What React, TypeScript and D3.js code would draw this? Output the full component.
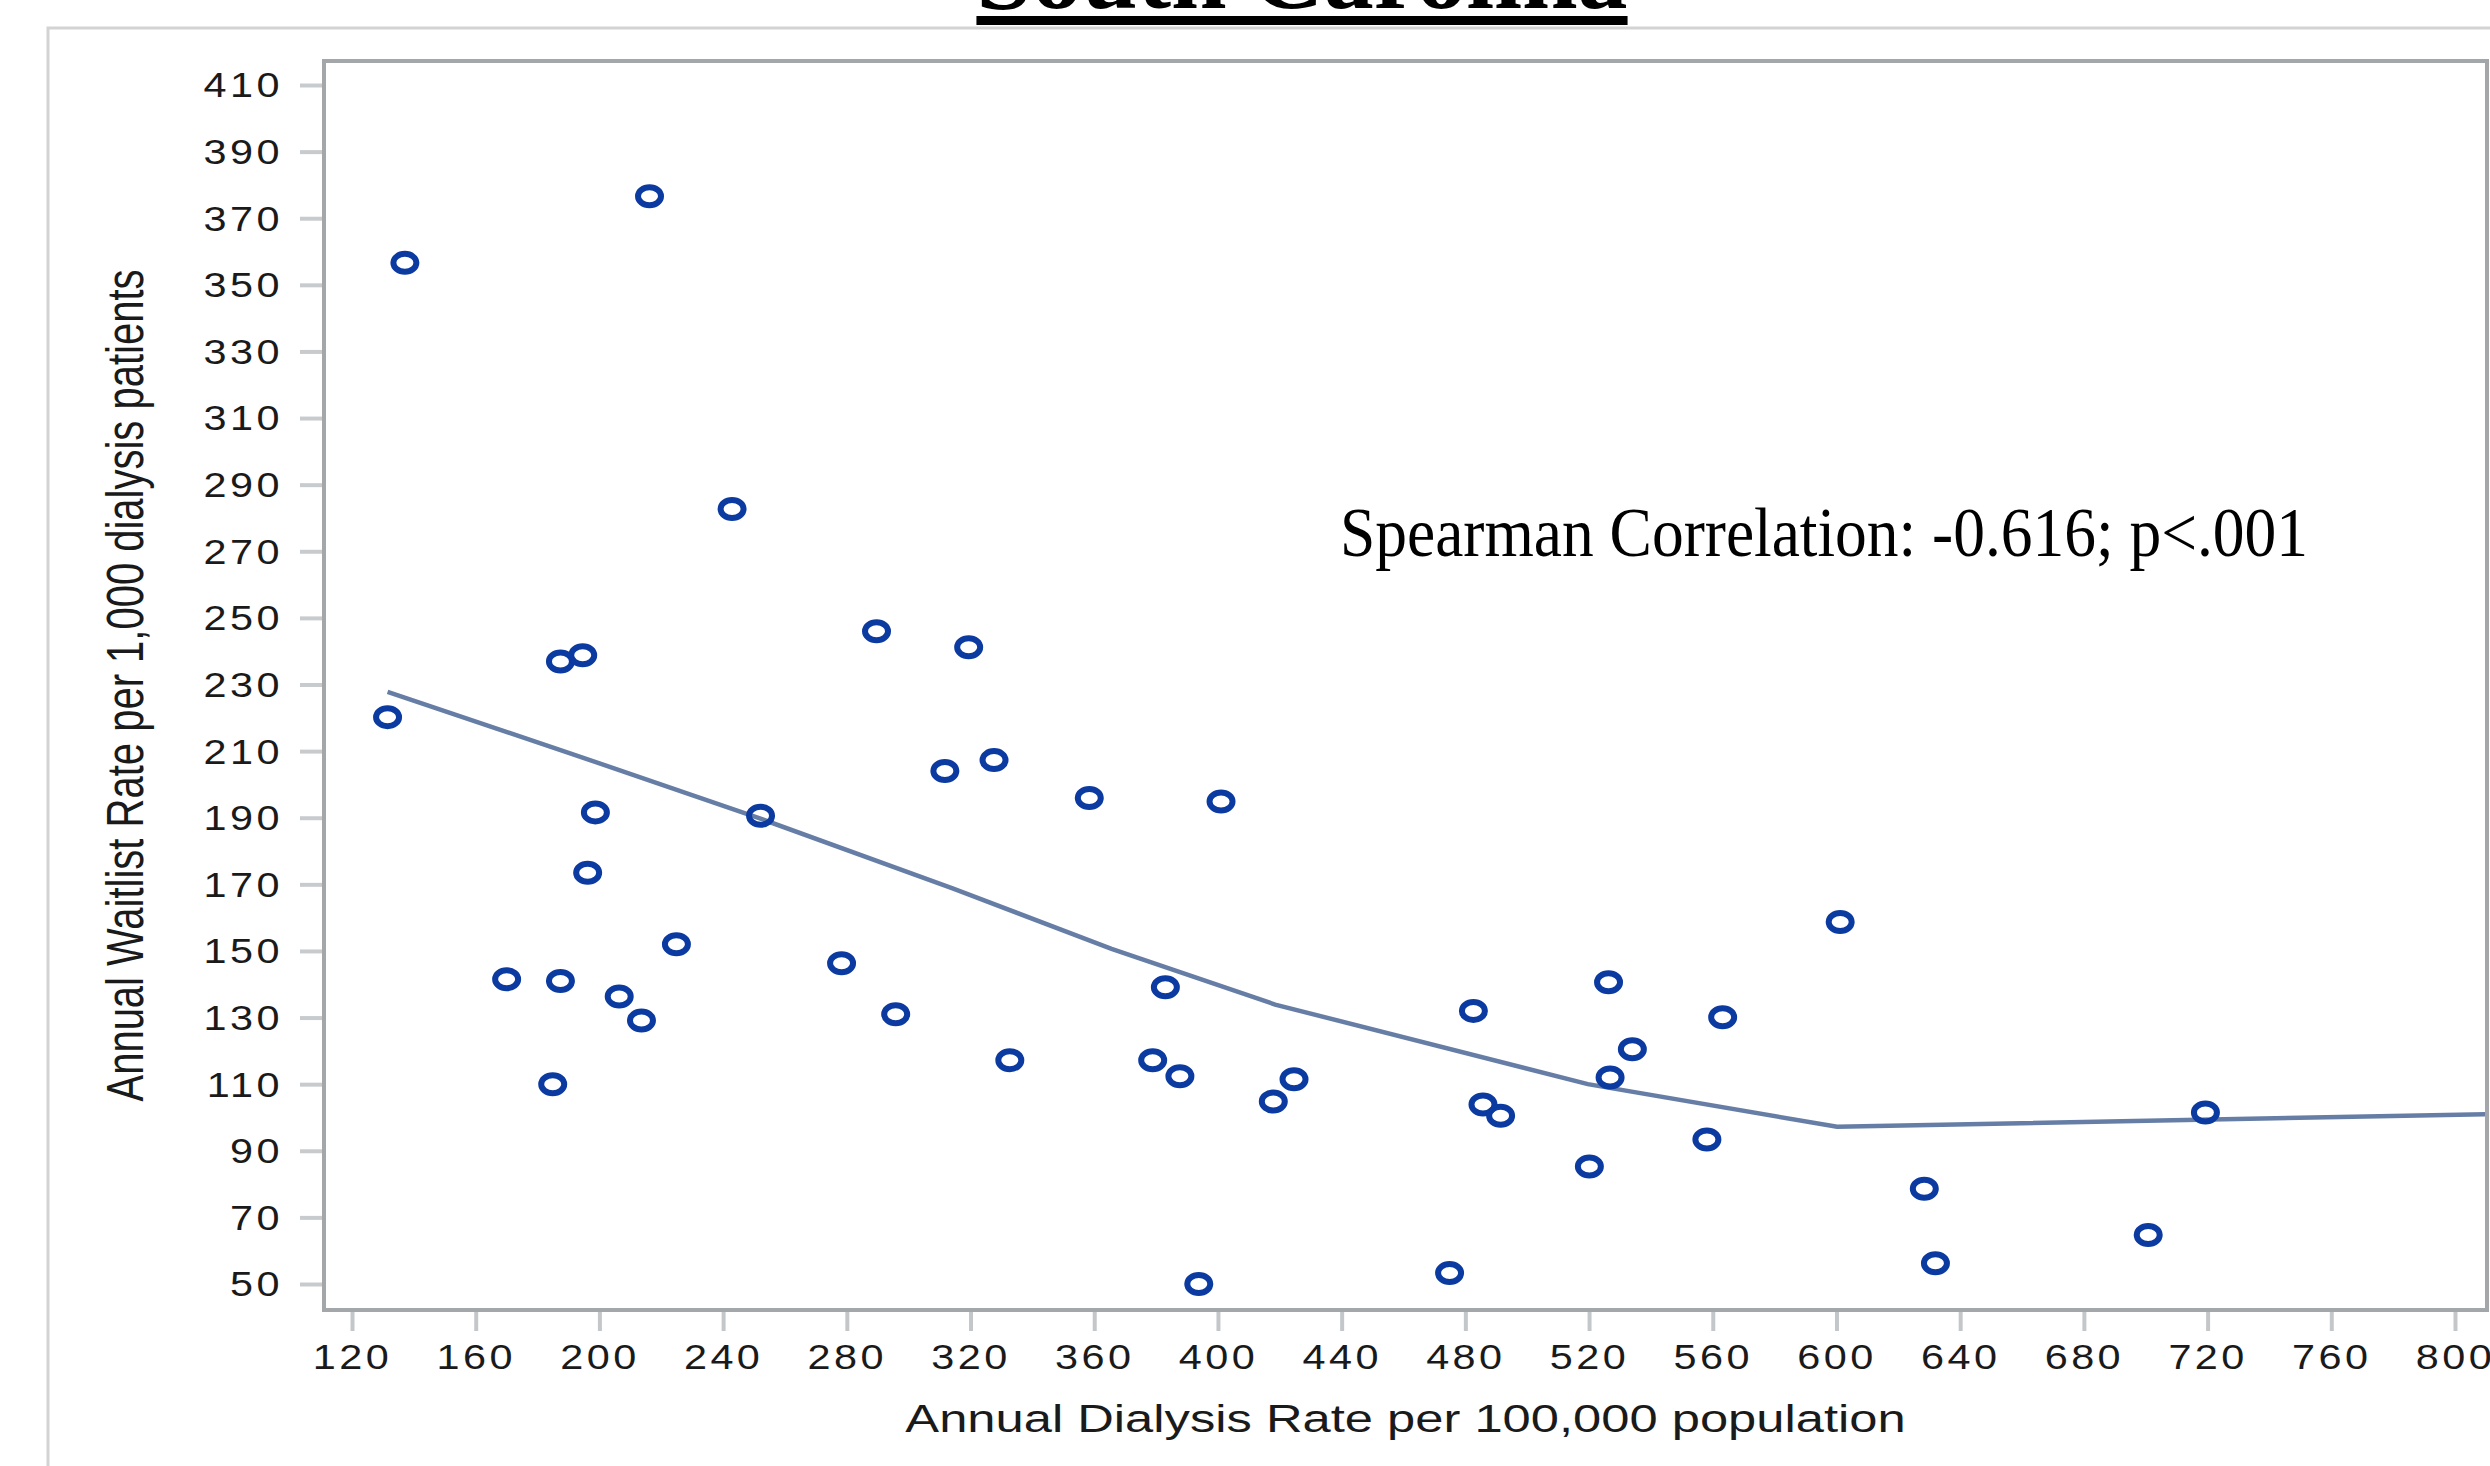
import React, { useEffect, useRef } from "react";
import * as d3 from "d3";

// annual dialysis rate per 100,000 population (x) and annual waitlist rate per 1,000 dialysis patients (y)
const dialysisRate = [
  137.1, 216.2, 131.5, 242.9, 187.4, 194.6, 198.7, 196.2, 252.1, 224.9, 170.0, 187.4, 206.4, 213.6, 184.9,
  289.6, 319.4, 311.7, 327.6, 358.4, 401.0, 278.3, 295.8, 332.7, 378.9, 387.7, 383.0, 393.8, 417.9, 424.6,
  482.6, 485.7, 491.4, 474.9, 520.1, 526.3, 526.8, 534.0, 558.1, 563.2, 601.2, 628.4, 632.0, 700.8, 719.3,
];
const waitlistRate = [
  356.6, 376.6, 220.2, 282.7, 236.9, 238.8, 191.6, 173.5, 190.6, 152.0, 141.5, 141.0, 136.3, 129.1, 110.0,
  246.0, 241.2, 204.0, 207.3, 195.9, 194.9, 146.3, 131.0, 117.2, 117.2, 112.4, 139.1, 50.0, 104.8, 111.5,
  132.0, 103.9, 100.5, 53.3, 85.3, 140.6, 112.0, 120.5, 93.4, 130.1, 158.7, 78.6, 56.2, 64.7, 101.5,
];

// loess fit
const fitX = [131.5, 191.0, 252.1, 314.2, 365.6, 418.5, 519.6, 600.2, 812];
const fitY = [227.8, 209.2, 189.7, 168.8, 150.6, 133.9, 110.0, 97.2, 101.0];

const xTicks = [120, 160, 200, 240, 280, 320, 360, 400, 440, 480, 520, 560, 600, 640, 680, 720, 760, 800];
const yTicks = [50, 70, 90, 110, 130, 150, 170, 190, 210, 230, 250, 270, 290, 310, 330, 350, 370, 390, 410];

const title = "South Carolina";
const xLabel = "Annual Dialysis Rate per 100,000 population";
const yLabel = "Annual Waitlist Rate per 1,000 dialysis patients";
const note = "Spearman Correlation: -0.616; p<.001";

const App = () => {
  const ref = useRef<SVGSVGElement>(null);

  useEffect(() => {
    const svg = d3.select(ref.current);
    svg.selectAll("*").remove();

    const W = 2490;
    const H = 1466;
    const frame = { left: 324, top: 61, right: 2487, bottom: 1310 };
    const stretch = 1.3; // the source image is wider than tall
    const tickStretch = 1.15;
    const sans = "'Liberation Sans', Arial, sans-serif";
    const serif = "'Liberation Serif', 'Times New Roman', serif";

    const x = d3.scaleLinear().domain([120, 800]).range([352, 2455]);
    const y = d3.scaleLinear().domain([50, 410]).range([1284, 85]);

    svg.append("rect").attr("width", W).attr("height", H).attr("fill", "#fff");

    // outer panel border
    svg
      .append("rect")
      .attr("x", 48)
      .attr("y", 28)
      .attr("width", 2600)
      .attr("height", 1600)
      .attr("fill", "none")
      .attr("stroke", "#d3d3d3")
      .attr("stroke-width", 3);

    // title, cut off at the top
    const t = svg
      .append("text")
      .attr("x", 1302)
      .attr("y", 8)
      .attr("text-anchor", "middle")
      .attr("font-family", serif)
      .attr("font-weight", "bold")
      .attr("font-size", 100)
      .attr("fill", "#000")
      .text(title);
    const bb = (t.node() as SVGTextElement).getBBox();
    svg.append("rect").attr("x", bb.x).attr("y", 16).attr("width", bb.width).attr("height", 9).attr("fill", "#000");

    // y axis
    const yAxis = svg
      .append("g")
      .attr("transform", `translate(${frame.left - 2},0)`)
      .call(d3.axisLeft(y).tickValues(yTicks).tickSizeInner(22).tickSizeOuter(0));
    yAxis.select(".domain").remove();
    yAxis.selectAll(".tick line").attr("stroke", "#c8cbce").attr("stroke-width", 4);
    yAxis
      .selectAll(".tick text")
      .attr("x", null)
      .attr("dy", "0.33em")
      .attr("transform", `translate(-39,0) scale(${tickStretch},1)`)
      .attr("font-family", sans)
      .attr("font-size", 36)
      .attr("letter-spacing", 3)
      .attr("fill", "#1a1a1a");

    // x axis
    const xAxis = svg
      .append("g")
      .attr("transform", `translate(0,${frame.bottom + 2})`)
      .call(d3.axisBottom(x).tickValues(xTicks).tickSizeInner(19).tickSizeOuter(0));
    xAxis.select(".domain").remove();
    xAxis.selectAll(".tick line").attr("stroke", "#c4c7ca").attr("stroke-width", 4);
    xAxis
      .selectAll(".tick text")
      .attr("y", 57)
      .attr("dy", 0)
      .attr("transform", `scale(${tickStretch},1)`)
      .attr("font-family", sans)
      .attr("font-size", 36)
      .attr("letter-spacing", 3)
      .attr("fill", "#1a1a1a");

    // plot frame
    svg
      .append("rect")
      .attr("x", frame.left)
      .attr("y", frame.top)
      .attr("width", frame.right - frame.left)
      .attr("height", frame.bottom - frame.top)
      .attr("fill", "none")
      .attr("stroke", "#a3a7aa")
      .attr("stroke-width", 4);

    svg
      .append("clipPath")
      .attr("id", "plot-clip")
      .append("rect")
      .attr("x", frame.left + 2)
      .attr("y", frame.top + 2)
      .attr("width", frame.right - frame.left - 4)
      .attr("height", frame.bottom - frame.top - 4);

    const plot = svg.append("g").attr("clip-path", "url(#plot-clip)");

    const fit = fitX.map((d, i) => [d, fitY[i]] as [number, number]);
    plot
      .append("path")
      .datum(fit)
      .attr("fill", "none")
      .attr("stroke", "#667ea6")
      .attr("stroke-width", 4.5)
      .attr("d", d3.line<[number, number]>().x((d) => x(d[0])).y((d) => y(d[1])));

    plot
      .selectAll(".pt")
      .data(dialysisRate)
      .enter()
      .append("ellipse")
      .attr("class", "pt")
      .attr("cx", (d) => x(d))
      .attr("cy", (d, i) => y(waitlistRate[i]))
      .attr("rx", 11.5)
      .attr("ry", 9)
      .attr("fill", "none")
      .attr("stroke", "#0b3aa0")
      .attr("stroke-width", 6);

    // annotation
    svg
      .append("text")
      .attr("x", 1340)
      .attr("y", 556)
      .attr("font-family", serif)
      .attr("font-size", 69)
      .attr("textLength", 968)
      .attr("lengthAdjust", "spacingAndGlyphs")
      .attr("fill", "#000")
      .text(note);

    // axis titles
    svg
      .append("text")
      .attr("transform", `translate(${(frame.left + frame.right) / 2},1432) scale(${stretch},1)`)
      .attr("text-anchor", "middle")
      .attr("font-family", sans)
      .attr("font-size", 39)
      .attr("fill", "#1a1a1a")
      .text(xLabel);

    svg
      .append("text")
      .attr("transform", `translate(143,${(frame.top + frame.bottom) / 2}) scale(${stretch},1) rotate(-90)`)
      .attr("text-anchor", "middle")
      .attr("font-family", sans)
      .attr("font-size", 40)
      .attr("fill", "#1a1a1a")
      .text(yLabel);
  }, []);

  return <svg ref={ref} width={2490} height={1466} style={{ position: "absolute", left: 0, top: 0 }}></svg>;
};

export default App;
